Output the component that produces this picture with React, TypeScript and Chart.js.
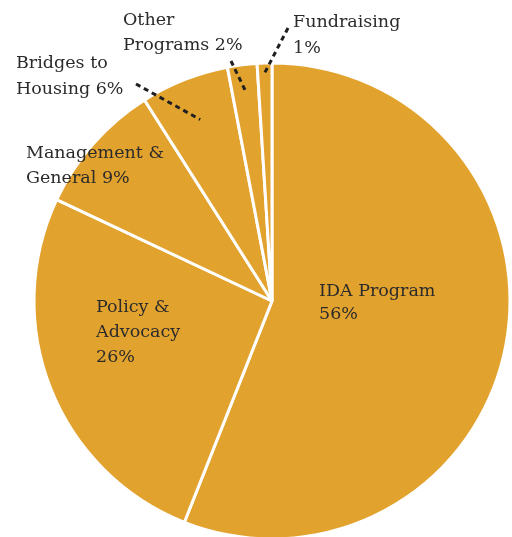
import React, { useEffect, useRef } from 'react';
import { Chart, registerables, Plugin } from 'chart.js';

Chart.register(...registerables);

// slices, clockwise from 12 o'clock
const categories = ['IDA Program', 'Policy & Advocacy', 'Management & General', 'Bridges to Housing', 'Other Programs', 'Fundraising'];
const values = [56, 26, 9, 6, 2, 1];
// how each label is broken into lines; {v} is replaced by the slice value
const labelLines = [
    ['IDA Program', '{v}%'],
    ['Policy &', 'Advocacy', '{v}%'],
    ['Management &', 'General {v}%'],
    ['Bridges to', 'Housing {v}%'],
    ['Other', 'Programs {v}%'],
    ['Fundraising', '{v}%'],
];

const SLICE_COLOR = '#E2A22E';
const TEXT_COLOR = '#2b2b2b';
const FONT = '17.5px "DejaVu Serif", serif';

// label placement: left x, first baseline y, line height, and optional leader line
// (leader runs from outer point to the slice's mid-angle at a fraction of the radius)
const labelLayout = [
    { x: 319, y: 296, lh: 23 },
    { x: 96, y: 312, lh: 25 },
    { x: 26, y: 158, lh: 25 },
    { x: 16, y: 68, lh: 26, lead: { x: 136, y: 84, k: 0.82 } },
    { x: 123, y: 25, lh: 25, lead: { x: 231, y: 61, k: 0.89 } },
    { x: 293, y: 27, lh: 26, lead: { x: 288, y: 28, k: 0.96 } },
];

const labelsPlugin: Plugin<'pie'> = {
    id: 'sliceLabels',
    afterDraw(chart) {
        const ctx = chart.ctx;
        const meta = chart.getDatasetMeta(0);
        ctx.save();
        meta.data.forEach((el: any, i) => {
            const layout = labelLayout[i];
            if (layout.lead) {
                const mid = (el.startAngle + el.endAngle) / 2;
                const r = el.outerRadius * layout.lead.k;
                const ix = el.x + Math.cos(mid) * r;
                const iy = el.y + Math.sin(mid) * r;
                ctx.beginPath();
                ctx.setLineDash([5, 4]);
                ctx.lineWidth = 3;
                ctx.strokeStyle = '#1f1f1f';
                ctx.moveTo(layout.lead.x, layout.lead.y);
                ctx.lineTo(ix, iy);
                ctx.stroke();
            }
            ctx.setLineDash([]);
            ctx.font = FONT;
            ctx.fillStyle = TEXT_COLOR;
            ctx.textAlign = 'left';
            ctx.textBaseline = 'alphabetic';
            labelLines[i].forEach((line, j) => {
                ctx.fillText(line.replace('{v}', String(values[i])), layout.x, layout.y + j * layout.lh);
            });
        });
        ctx.restore();
    },
};

const FundsPieChart: React.FC = () => {
    const chartRef = useRef<HTMLCanvasElement | null>(null);
    const chartInstanceRef = useRef<Chart | null>(null);

    useEffect(() => {
        if (!chartRef.current) return;

        if (chartInstanceRef.current) {
            chartInstanceRef.current.destroy();
        }

        chartInstanceRef.current = new Chart(chartRef.current, {
            type: 'pie',
            data: {
                labels: categories,
                datasets: [{
                    data: values,
                    backgroundColor: SLICE_COLOR,
                    borderColor: '#ffffff',
                    borderWidth: 3,
                }]
            },
            options: {
                responsive: true,
                maintainAspectRatio: false,
                animation: false,
                layout: { padding: { left: 32.5, right: 0.5, top: 61.5, bottom: 19.5 } },
                plugins: {
                    legend: { display: false },
                    tooltip: { enabled: false },
                }
            },
            plugins: [labelsPlugin],
        });

        return () => {
            chartInstanceRef.current?.destroy();
            chartInstanceRef.current = null;
        };
    }, []);

    return (
        <div style={{ position: 'fixed', left: 0, top: 0, width: 512, height: 537, overflow: 'hidden', background: '#fff' }}>
            <div style={{ position: 'relative', width: 512, height: 560 }}>
                <canvas ref={chartRef}></canvas>
            </div>
        </div>
    );
};

export default function App() {
    return <FundsPieChart />;
}
